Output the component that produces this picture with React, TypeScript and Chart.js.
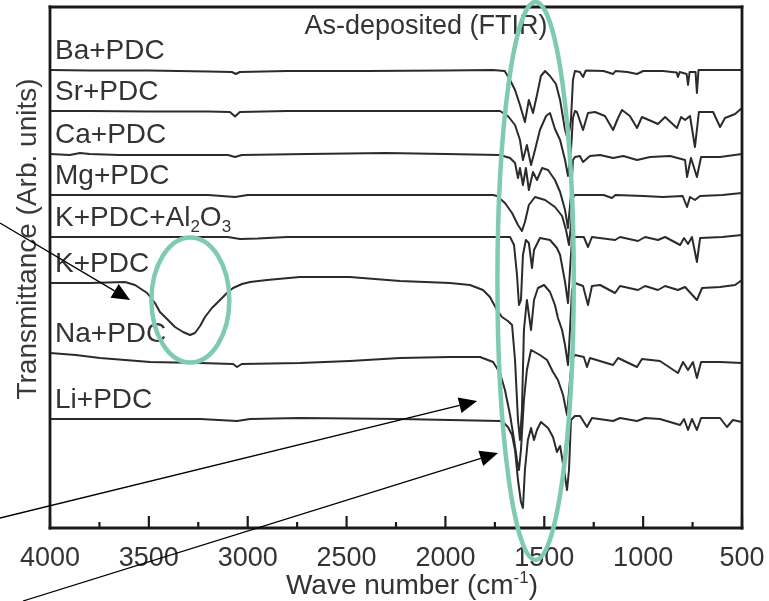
import React, { useEffect, useRef } from 'react';
import { Chart, registerables } from 'chart.js';

Chart.register(...registerables);

// ---- Data (wavenumber cm^-1, transmittance in arb. units, traces offset as plotted) ----
const seriesLabels = ['Ba+PDC', 'Sr+PDC', 'Ca+PDC', 'Mg+PDC', 'K+PDC+Al_{2}O_{3}', 'K+PDC', 'Na+PDC', 'Li+PDC'];

const baPDC = [[4000,91.6],[3800,91.5],[3500,91.5],[3200,91.3],[3080,91.2],[3060,90.8],[3040,91.2],[2800,91.4],[2400,91.4],[2000,91.5],[1760,91.6],[1700,91.4],[1673,89.6],[1648,87.6],[1623,84.6],[1598,81.2],[1578,85.6],[1557,83],[1537,86.6],[1517,90.4],[1496,91.4],[1471,90.4],[1441,88.8],[1420,85.6],[1395,79.6],[1380,77.6],[1365,81.6],[1355,89.6],[1345,91.4],[1320,91.2],[1304,90.2],[1290,91.5],[1200,91.4],[1152,90.8],[1140,91.4],[1080,91.2],[1031,90.8],[1000,91.4],[900,91.4],[830,91.1],[824,90.2],[815,91.2],[780,90.8],[773,88.6],[765,91.2],[735,91.2],[728,87],[720,91.6],[650,91.6],[500,91.6]];

const srPDC = [[4000,83.4],[3800,83.4],[3500,83.3],[3200,83.3],[3090,83.2],[3064,82.3],[3040,83.2],[2800,83.4],[2400,83.4],[2000,83.4],[1724,83.4],[1684,82.4],[1648,80.6],[1623,77.6],[1608,73.6],[1588,76.6],[1567,72.6],[1547,75.6],[1522,79.6],[1491,82.4],[1471,83],[1446,79.8],[1420,77.6],[1395,73.6],[1380,70.4],[1365,75.6],[1355,82],[1345,83.4],[1335,83.2],[1304,79.6],[1279,83],[1244,83.2],[1193,82.4],[1152,79.6],[1127,82],[1107,83.6],[1067,82.4],[1031,80],[1006,82.2],[925,80.8],[889,82.2],[829,80],[808,82.2],[788,81.6],[763,82.4],[738,76.2],[718,83.2],[646,83.2],[611,80.2],[586,82],[535,82.8],[500,84]];

const caPDC = [[4000,74.8],[3900,74.6],[3848,75],[3800,74.8],[3650,74.6],[3400,74.6],[3100,74.6],[3064,74.2],[3030,74.6],[2700,74.8],[2300,75],[2000,74.8],[1724,74.6],[1673,74],[1648,73],[1633,70],[1623,72],[1608,68.6],[1593,72],[1578,67.6],[1557,71.2],[1537,69.6],[1511,72],[1481,71.6],[1446,69.6],[1420,67.2],[1395,63.6],[1380,60],[1365,66.6],[1355,73.6],[1345,74.2],[1320,74.4],[1304,73.2],[1269,74.4],[1218,74.6],[1152,74],[1100,74.4],[1031,73.6],[965,74.2],[864,74.4],[788,73.6],[778,70.2],[758,74],[728,70.2],[707,74.2],[611,74.2],[500,74.8]];

const mgPDC = [[4000,66.6],[3600,66.6],[3200,66.6],[3064,66.2],[3000,66.6],[2500,66.6],[2000,66.6],[1759,66.6],[1739,66.4],[1699,65],[1663,63],[1633,60.6],[1613,59.4],[1598,61.2],[1578,64.6],[1547,66.2],[1496,65.6],[1446,64.2],[1410,62.4],[1390,59.6],[1375,56.6],[1365,60.6],[1355,66.2],[1345,66.6],[1200,66.6],[1158,66],[1140,66.6],[1000,66.4],[900,66.2],[800,66.4],[778,64.2],[763,66.2],[738,65.6],[712,66.4],[600,66.6],[500,67]];

const kAlPDC = [[4000,58.2],[3600,58.2],[3100,58.2],[3039,57.8],[2950,57.9],[2800,58.2],[2200,58.2],[1800,58.2],[1673,58.2],[1653,56.6],[1638,50.6],[1628,44.6],[1618,45.6],[1608,54.6],[1593,57.6],[1578,57],[1562,52],[1552,55.6],[1522,58],[1471,57.6],[1436,56],[1420,54.6],[1395,49.2],[1380,45],[1370,51.6],[1360,57.6],[1345,58.2],[1300,58.2],[1279,56.2],[1259,58.2],[1142,57.6],[1117,58.2],[1026,57.4],[990,58.2],[925,57.6],[889,58.2],[813,56.6],[793,58],[773,56.8],[753,58.2],[728,53.2],[712,58],[600,58.2],[500,58.6]];

const kPDC = [[4000,49],[3800,49],[3621,49.2],[3570,48.6],[3509,47],[3469,45],[3444,43.2],[3403,41.6],[3368,40.2],[3327,39.2],[3292,38.6],[3267,39],[3241,40.4],[3216,42.2],[3181,44],[3140,45.6],[3105,47],[3074,48],[3029,48.8],[2988,49.2],[2902,49.6],[2736,50.2],[2483,50.2],[2230,49.4],[1977,49],[1876,48.6],[1810,47.6],[1775,46.2],[1739,43.6],[1714,42.2],[1684,41.4],[1663,40.6],[1648,33.6],[1633,21.6],[1623,17.6],[1613,23.6],[1603,39.6],[1588,45.6],[1567,39.6],[1552,45.6],[1532,48],[1501,48.6],[1471,47.2],[1446,44.6],[1431,42],[1410,39.6],[1395,36.6],[1380,32.6],[1370,39.6],[1360,47.6],[1345,49],[1304,48.4],[1279,44.6],[1259,48.4],[1218,48.6],[1142,47],[1117,48.4],[1026,47.6],[990,48.4],[925,47.6],[889,48.4],[824,47.6],[788,48.2],[728,45.6],[702,48],[611,48.2],[535,48.6],[500,49.6]];

const naPDC = [[4000,35],[3870,34.6],[3747,34],[3620,33.6],[3494,33.2],[3241,33],[3074,32.8],[3054,32.2],[3030,32.8],[2736,33],[2483,33.4],[2230,34],[1977,34.2],[1825,34.2],[1759,33.2],[1724,31],[1699,27.6],[1673,22.6],[1653,17.6],[1638,13.6],[1628,11.6],[1618,15.6],[1603,25.6],[1588,31.6],[1567,35.6],[1522,34.6],[1486,33.6],[1456,31.2],[1431,29.6],[1405,26.6],[1385,22.6],[1370,29.6],[1360,33.6],[1345,34.6],[1300,34.2],[1284,32.2],[1269,34],[1152,32.6],[1127,34],[1031,32.2],[1006,33.8],[915,33.4],[824,31],[798,33.2],[773,31.6],[748,33.2],[728,30],[707,33.2],[611,33.2],[500,33]];

const liPDC = [[4000,21.8],[3747,21.8],[3241,21.8],[3054,21.4],[2988,21.8],[2736,22],[2230,21.8],[1724,21.4],[1709,21.2],[1684,20.2],[1663,18.6],[1648,15.6],[1633,9.6],[1618,5.2],[1608,4],[1598,11.6],[1583,17.6],[1567,20],[1552,17.6],[1537,19.6],[1517,21.2],[1481,20],[1456,18.2],[1436,15.2],[1420,16.4],[1400,11.6],[1385,7.6],[1375,11.6],[1365,21.6],[1345,22.4],[1319,22.4],[1284,20.2],[1259,22],[1152,21.4],[1117,22],[1031,21.4],[990,22],[915,21.8],[813,20.6],[793,21.8],[773,19.6],[753,21.8],[728,19.6],[707,22],[611,22],[576,20.2],[546,21.6],[500,21.2]];

const allSeries = [baPDC, srPDC, caPDC, mgPDC, kAlPDC, kPDC, naPDC, liPDC];

const xMin = 500;
const xMax = 4000;
const yMin = 0;
const yMax = 104.2;
const majorTicks = [4000, 3500, 3000, 2500, 2000, 1500, 1000, 500];
const minorTicks = [3750, 3250, 2750, 2250, 1750, 1250, 750];

const chartTitle = 'As-deposited (FTIR)';
const xTitle = 'Wave number (cm^{-1})';
const yTitle = 'Transmittance (Arb. units)';

// annotations in data units: [centre wn, centre value, half-width wn, half-height value]
const ellipses = [
  [3290, 45.6, 197, 12.5],
  [1544, 49.4, 193, 55.8],
];
// arrows: [tail wn, tail value, tip wn, tip value]
const arrows = [
  [4253, 61, 3595, 45.6],
  [4253, 2, 1840, 25.4],
  [4137, -14.6, 1734, 15],
];

const FONT = "'Liberation Sans', Arial, Helvetica, sans-serif";
const TEXT = '#333333';

function parseRich(text: string) {
  const out: { t: string; k: string }[] = [];
  const re = /(_|\^)\{([^}]*)\}/g;
  let last = 0;
  let m;
  while ((m = re.exec(text))) {
    if (m.index > last) out.push({ t: text.slice(last, m.index), k: 'n' });
    out.push({ t: m[2], k: m[1] === '_' ? 'sub' : 'sup' });
    last = m.index + m[0].length;
  }
  if (last < text.length) out.push({ t: text.slice(last), k: 'n' });
  return out;
}

function drawRich(ctx: CanvasRenderingContext2D, text: string, x: number, y: number, size: number, align: 'left' | 'center') {
  const parts = parseRich(text);
  const small = Math.round(size * 0.62);
  let total = 0;
  const widths = parts.map((p) => {
    ctx.font = `${p.k === 'n' ? size : small}px ${FONT}`;
    const w = ctx.measureText(p.t).width;
    total += w;
    return w;
  });
  let cx = align === 'center' ? x - total / 2 : x;
  ctx.textAlign = 'left';
  ctx.textBaseline = 'alphabetic';
  parts.forEach((p, i) => {
    ctx.font = `${p.k === 'n' ? size : small}px ${FONT}`;
    const dy = p.k === 'sub' ? size * 0.22 : p.k === 'sup' ? -size * 0.4 : 0;
    ctx.fillText(p.t, cx, y + dy);
    cx += widths[i];
  });
}

function line(ctx: CanvasRenderingContext2D, x0: number, y0: number, x1: number, y1: number) {
  ctx.beginPath();
  ctx.moveTo(x0, y0);
  ctx.lineTo(x1, y1);
  ctx.stroke();
}

const decorPlugin = {
  id: 'ftirDecor',
  afterDraw(chart: any) {
    const ctx: CanvasRenderingContext2D = chart.ctx;
    const xs = chart.scales.x;
    const ys = chart.scales.y;
    const L = xs.getPixelForValue(xMax);
    const R = xs.getPixelForValue(xMin);
    const T = ys.getPixelForValue(yMax);
    const B = ys.getPixelForValue(yMin);
    ctx.save();

    // frame
    ctx.strokeStyle = '#1a1a1a';
    ctx.lineWidth = 2.8;
    ctx.lineCap = 'square';
    line(ctx, L, T, R, T);
    line(ctx, R, T, R, B);
    line(ctx, R, B, L, B);
    line(ctx, L, B, L, T);

    // inward ticks
    ctx.lineCap = 'butt';
    ctx.lineWidth = 2.2;
    majorTicks.forEach((v) => {
      const px = xs.getPixelForValue(v);
      line(ctx, px, B, px, B - 12);
    });
    minorTicks.forEach((v) => {
      const px = xs.getPixelForValue(v);
      line(ctx, px, B, px, B - 6);
    });

    // series labels
    ctx.fillStyle = TEXT;
    seriesLabels.forEach((lab, i) => {
      const yp = ys.getPixelForValue(allSeries[i][0][1]) - 11;
      drawRich(ctx, lab, L + 5, yp, 28, 'left');
    });

    // chart title
    drawRich(ctx, chartTitle, 426, T + 27, 27, 'center');

    // axis titles
    drawRich(ctx, xTitle, 412, 594, 28, 'center');
    ctx.save();
    ctx.translate(28, 239);
    ctx.rotate(-Math.PI / 2);
    ctx.font = `28px ${FONT}`;
    ctx.textAlign = 'center';
    ctx.textBaseline = 'middle';
    ctx.fillStyle = '#3a3a3a';
    ctx.fillText(yTitle, 0, 0);
    ctx.restore();

    // ellipses
    ctx.strokeStyle = '#7fcbb0';
    ctx.lineWidth = 4.5;
    ellipses.forEach(([cw, cv, hw, hv]) => {
      const cx = xs.getPixelForValue(cw);
      const cy = ys.getPixelForValue(cv);
      const rx = Math.abs(xs.getPixelForValue(cw - hw) - cx);
      const ry = Math.abs(ys.getPixelForValue(cv + hv) - cy);
      ctx.beginPath();
      ctx.ellipse(cx, cy, rx, ry, 0, 0, Math.PI * 2);
      ctx.stroke();
    });

    // arrows
    ctx.strokeStyle = '#000';
    ctx.fillStyle = '#000';
    ctx.lineWidth = 1.3;
    arrows.forEach(([tw, tv, hw, hv]) => {
      const x0 = xs.getPixelForValue(tw);
      const y0 = ys.getPixelForValue(tv);
      const x1 = xs.getPixelForValue(hw);
      const y1 = ys.getPixelForValue(hv);
      const ang = Math.atan2(y1 - y0, x1 - x0);
      const len = 18;
      const W = 8;
      const bx = x1 - len * Math.cos(ang);
      const by = y1 - len * Math.sin(ang);
      line(ctx, x0, y0, bx, by);
      ctx.beginPath();
      ctx.moveTo(x1, y1);
      ctx.lineTo(bx + W * Math.sin(ang), by - W * Math.cos(ang));
      ctx.lineTo(bx - W * Math.sin(ang), by + W * Math.cos(ang));
      ctx.closePath();
      ctx.fill();
    });

    ctx.restore();
  },
};

export default function App() {
  const canvasRef = useRef<HTMLCanvasElement | null>(null);

  useEffect(() => {
    const canvas = canvasRef.current;
    if (!canvas) return;
    const chart = new Chart(canvas, {
      type: 'line',
      data: {
        datasets: allSeries.map((s, i) => ({
          label: seriesLabels[i],
          data: s.map(([wn, t]) => ({ x: wn, y: t })),
          borderColor: '#2b2b2b',
          borderWidth: 2,
          borderJoinStyle: 'round' as const,
          borderCapStyle: 'round' as const,
          pointRadius: 0,
          fill: false,
          tension: 0,
        })),
      },
      options: {
        animation: false,
        responsive: false,
        devicePixelRatio: 1,
        parsing: false as any,
        layout: { padding: { left: 50, right: 27, top: 7, bottom: 0 } },
        plugins: { legend: { display: false }, tooltip: { enabled: false }, title: { display: false } },
        scales: {
          x: {
            type: 'linear',
            reverse: true,
            min: xMin,
            max: xMax,
            grid: { display: false, drawTicks: false },
            border: { display: false },
            ticks: {
              stepSize: 500,
              autoSkip: false,
              maxRotation: 0,
              padding: 14,
              color: TEXT,
              font: { family: FONT, size: 27 },
              callback: (v: any) => String(v),
            },
            afterFit: (scale: any) => {
              scale.height = 73;
              scale.paddingLeft = 0;
              scale.paddingRight = 0;
            },
          },
          y: {
            type: 'linear',
            display: false,
            min: yMin,
            max: yMax,
          },
        },
      },
      plugins: [decorPlugin],
    });
    return () => chart.destroy();
  }, []);

  return (
    <div style={{ position: 'fixed', left: 0, top: 0, width: 769, height: 601, background: '#fff' }}>
      <canvas ref={canvasRef} width={769} height={601} style={{ display: 'block' }} />
    </div>
  );
}
